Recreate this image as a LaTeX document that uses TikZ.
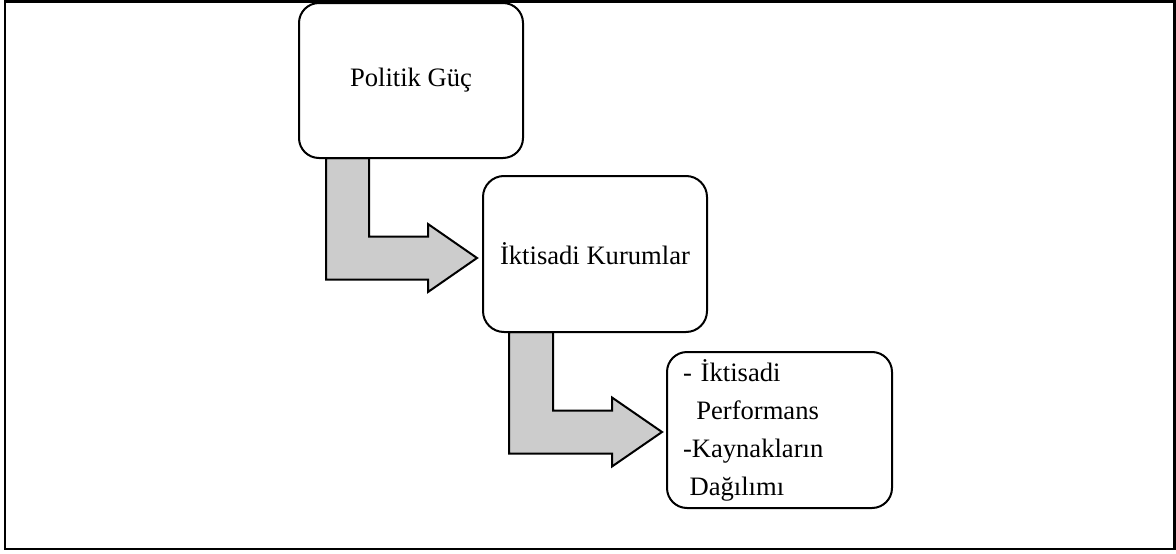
\documentclass[tikz,border=0pt]{standalone}
\usepackage{fontspec}
\setmainfont{Liberation Serif}
\usetikzlibrary{calc,backgrounds}
\definecolor{arrowgray}{RGB}{204,204,204}
\begin{document}
\begin{tikzpicture}[x=1pt,y=-1pt,
  box/.style={draw=black, line width=2pt, fill=white, rounded corners=20pt,
    minimum width=224pt, minimum height=155pt, inner sep=0pt, outer sep=0pt,
    font=\fontsize{26.6pt}{38pt}\selectfont},
  blockarrow/.style={draw=black, line width=2pt, fill=arrowgray, line join=miter},
  frame/.style={draw=black, line width=2.6pt}
]
\useasboundingbox (0,0) rectangle (1176,554);
\draw[frame] (5,1.3) rectangle (1174.7,549);

\node[box] (b1) at (411,80.5) {Politik Güç};
\node[box, minimum height=156pt, rounded corners=21pt] (b2) at (595,254) {İktisadi Kurumlar};
\node[box, minimum width=225pt, minimum height=156pt, text width=193pt,
      inner xsep=16pt, align=left] (b3) at (779.5,430)
  {- İktisadi\\\hspace*{13.3pt}Performans\\-Kaynakların\\\hspace*{6.6pt}Dağılımı};

\begin{scope}[on background layer]
  \coordinate (a1s) at ($(b1.south west)+(27,0)$);
  \coordinate (a1t) at ($(b2.west)+(-6,4)$);
  \draw[blockarrow] let \p1=(a1s), \p2=(a1t) in
    (\x1,\y1) -- (\x1+43pt,\y1) -- (\x1+43pt,\y2+21.5pt)
    -- (\x2-49pt,\y2+21.5pt) -- (\x2-49pt,\y2+34pt) -- (\x2,\y2)
    -- (\x2-49pt,\y2-34pt) -- (\x2-49pt,\y2-21.5pt) -- (\x1,\y2-21.5pt) -- cycle;
  \coordinate (a2s) at ($(b2.south west)+(26,0)$);
  \coordinate (a2t) at ($(b3.west)+(-5,2)$);
  \draw[blockarrow] let \p1=(a2s), \p2=(a2t) in
    (\x1,\y1) -- (\x1+44pt,\y1) -- (\x1+44pt,\y2+21.5pt)
    -- (\x2-50pt,\y2+21.5pt) -- (\x2-50pt,\y2+34.5pt) -- (\x2,\y2)
    -- (\x2-50pt,\y2-34.5pt) -- (\x2-50pt,\y2-21.5pt) -- (\x1,\y2-21.5pt) -- cycle;
\end{scope}
\end{tikzpicture}
\end{document}
